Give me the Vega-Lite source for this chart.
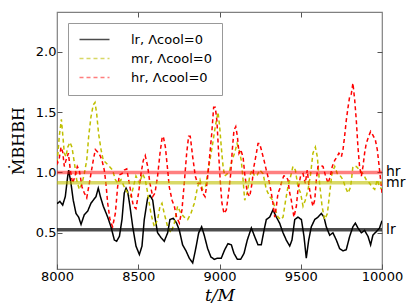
{
  "$schema": "https://vega.github.io/schema/vega-lite/v6.json",
  "width": 325,
  "height": 257,
  "autosize": {"type": "none"},
  "padding": {"left": 57, "top": 12, "right": 25, "bottom": 38},
  "background": "white",
  "config": {
    "view": {"stroke": "#808080", "strokeWidth": 1.2},
    "axis": {
      "domain": false,
      "grid": false,
      "tickColor": "#555",
      "tickSize": -5,
      "labelFont": "DejaVu Sans",
      "labelFontSize": 13,
      "labelColor": "#000000",
      "titleFont": "DejaVu Serif",
      "titleFontWeight": "normal",
      "titleFontSize": 17,
      "titleColor": "#000000"
    },
    "legend": {
      "orient": "top-left",
      "offset": 11,
      "fillColor": "white",
      "strokeColor": "#999",
      "padding": 10,
      "symbolType": "M-1,0H5",
      "symbolSize": 100,
      "symbolStrokeWidth": 1.6,
      "labelFont": "DejaVu Sans",
      "labelFontSize": 13,
      "labelColor": "#000000",
      "labelOffset": 40,
      "rowPadding": 5,
      "cornerRadius": 0
    }
  },
  "resolve": {"axis": {"x": "independent", "y": "independent"}},
  "datasets": {
    "curves": [
      {"s":"lr","t":8000,"v":0.75},{"s":"lr","t":8004,"v":0.745},{"s":"lr","t":8018,"v":0.76},{"s":"lr","t":8035,"v":0.73},{"s":"lr","t":8051,"v":0.80},{"s":"lr","t":8066,"v":0.97},{"s":"lr","t":8072,"v":1.02},{"s":"lr","t":8086,"v":0.91},{"s":"lr","t":8100,"v":0.77},{"s":"lr","t":8117,"v":0.66},{"s":"lr","t":8133,"v":0.63},{"s":"lr","t":8148,"v":0.57},{"s":"lr","t":8168,"v":0.65},{"s":"lr","t":8189,"v":0.68},{"s":"lr","t":8209,"v":0.745},{"s":"lr","t":8223,"v":0.77},{"s":"lr","t":8240,"v":0.80},{"s":"lr","t":8254,"v":0.87},{"s":"lr","t":8267,"v":0.80},{"s":"lr","t":8285,"v":0.72},{"s":"lr","t":8312,"v":0.63},{"s":"lr","t":8332,"v":0.55},{"s":"lr","t":8353,"v":0.44},{"s":"lr","t":8367,"v":0.43},{"s":"lr","t":8384,"v":0.47},{"s":"lr","t":8400,"v":0.61},{"s":"lr","t":8414,"v":0.83},{"s":"lr","t":8425,"v":0.87},{"s":"lr","t":8435,"v":0.84},{"s":"lr","t":8449,"v":0.72},{"s":"lr","t":8466,"v":0.55},{"s":"lr","t":8486,"v":0.39},{"s":"lr","t":8507,"v":0.32},{"s":"lr","t":8523,"v":0.39},{"s":"lr","t":8537,"v":0.61},{"s":"lr","t":8558,"v":0.79},{"s":"lr","t":8572,"v":0.81},{"s":"lr","t":8589,"v":0.77},{"s":"lr","t":8605,"v":0.61},{"s":"lr","t":8619,"v":0.50},{"s":"lr","t":8640,"v":0.46},{"s":"lr","t":8660,"v":0.43},{"s":"lr","t":8681,"v":0.50},{"s":"lr","t":8695,"v":0.61},{"s":"lr","t":8716,"v":0.62},{"s":"lr","t":8736,"v":0.58},{"s":"lr","t":8753,"v":0.52},{"s":"lr","t":8773,"v":0.40},{"s":"lr","t":8794,"v":0.35},{"s":"lr","t":8814,"v":0.29},{"s":"lr","t":8835,"v":0.25},{"s":"lr","t":8851,"v":0.35},{"s":"lr","t":8872,"v":0.50},{"s":"lr","t":8890,"v":0.55},{"s":"lr","t":8906,"v":0.48},{"s":"lr","t":8927,"v":0.37},{"s":"lr","t":8947,"v":0.30},{"s":"lr","t":8968,"v":0.28},{"s":"lr","t":8988,"v":0.29},{"s":"lr","t":9011,"v":0.29},{"s":"lr","t":9032,"v":0.36},{"s":"lr","t":9052,"v":0.41},{"s":"lr","t":9073,"v":0.40},{"s":"lr","t":9089,"v":0.33},{"s":"lr","t":9110,"v":0.28},{"s":"lr","t":9130,"v":0.28},{"s":"lr","t":9151,"v":0.33},{"s":"lr","t":9171,"v":0.44},{"s":"lr","t":9196,"v":0.54},{"s":"lr","t":9216,"v":0.47},{"s":"lr","t":9237,"v":0.40},{"s":"lr","t":9257,"v":0.40},{"s":"lr","t":9274,"v":0.52},{"s":"lr","t":9288,"v":0.61},{"s":"lr","t":9309,"v":0.63},{"s":"lr","t":9329,"v":0.69},{"s":"lr","t":9350,"v":0.63},{"s":"lr","t":9370,"v":0.58},{"s":"lr","t":9391,"v":0.50},{"s":"lr","t":9411,"v":0.44},{"s":"lr","t":9432,"v":0.39},{"s":"lr","t":9446,"v":0.44},{"s":"lr","t":9463,"v":0.61},{"s":"lr","t":9483,"v":0.63},{"s":"lr","t":9504,"v":0.61},{"s":"lr","t":9520,"v":0.47},{"s":"lr","t":9534,"v":0.29},{"s":"lr","t":9549,"v":0.44},{"s":"lr","t":9565,"v":0.55},{"s":"lr","t":9586,"v":0.61},{"s":"lr","t":9606,"v":0.63},{"s":"lr","t":9627,"v":0.66},{"s":"lr","t":9643,"v":0.63},{"s":"lr","t":9657,"v":0.55},{"s":"lr","t":9678,"v":0.48},{"s":"lr","t":9698,"v":0.50},{"s":"lr","t":9719,"v":0.44},{"s":"lr","t":9739,"v":0.37},{"s":"lr","t":9760,"v":0.35},{"s":"lr","t":9780,"v":0.36},{"s":"lr","t":9801,"v":0.47},{"s":"lr","t":9821,"v":0.55},{"s":"lr","t":9836,"v":0.58},{"s":"lr","t":9852,"v":0.54},{"s":"lr","t":9873,"v":0.50},{"s":"lr","t":9893,"v":0.52},{"s":"lr","t":9914,"v":0.47},{"s":"lr","t":9930,"v":0.40},{"s":"lr","t":9944,"v":0.48},{"s":"lr","t":9965,"v":0.51},{"s":"lr","t":9985,"v":0.54},{"s":"lr","t":10000,"v":0.60},

      {"s":"mr","t":8000,"v":1.08},{"s":"mr","t":8004,"v":1.13},{"s":"mr","t":8014,"v":1.30},{"s":"mr","t":8027,"v":1.44},{"s":"mr","t":8035,"v":1.32},{"s":"mr","t":8045,"v":1.16},{"s":"mr","t":8055,"v":1.13},{"s":"mr","t":8066,"v":1.21},{"s":"mr","t":8080,"v":1.25},{"s":"mr","t":8092,"v":1.21},{"s":"mr","t":8107,"v":1.08},{"s":"mr","t":8121,"v":0.94},{"s":"mr","t":8137,"v":0.86},{"s":"mr","t":8154,"v":0.91},{"s":"mr","t":8168,"v":0.99},{"s":"mr","t":8183,"v":1.10},{"s":"mr","t":8195,"v":1.30},{"s":"mr","t":8209,"v":1.46},{"s":"mr","t":8223,"v":1.56},{"s":"mr","t":8234,"v":1.58},{"s":"mr","t":8244,"v":1.49},{"s":"mr","t":8256,"v":1.32},{"s":"mr","t":8271,"v":1.19},{"s":"mr","t":8285,"v":1.10},{"s":"mr","t":8301,"v":1.08},{"s":"mr","t":8322,"v":1.05},{"s":"mr","t":8342,"v":1.02},{"s":"mr","t":8359,"v":0.94},{"s":"mr","t":8375,"v":0.91},{"s":"mr","t":8394,"v":0.94},{"s":"mr","t":8414,"v":0.88},{"s":"mr","t":8435,"v":0.83},{"s":"mr","t":8455,"v":0.80},{"s":"mr","t":8470,"v":0.88},{"s":"mr","t":8486,"v":0.97},{"s":"mr","t":8507,"v":0.91},{"s":"mr","t":8527,"v":0.99},{"s":"mr","t":8543,"v":0.94},{"s":"mr","t":8558,"v":0.83},{"s":"mr","t":8578,"v":0.66},{"s":"mr","t":8599,"v":0.55},{"s":"mr","t":8619,"v":0.61},{"s":"mr","t":8634,"v":0.72},{"s":"mr","t":8646,"v":0.745},{"s":"mr","t":8660,"v":0.66},{"s":"mr","t":8681,"v":0.55},{"s":"mr","t":8701,"v":0.50},{"s":"mr","t":8722,"v":0.58},{"s":"mr","t":8742,"v":0.72},{"s":"mr","t":8763,"v":0.66},{"s":"mr","t":8783,"v":0.63},{"s":"mr","t":8804,"v":0.61},{"s":"mr","t":8824,"v":0.66},{"s":"mr","t":8845,"v":0.745},{"s":"mr","t":8865,"v":0.88},{"s":"mr","t":8880,"v":0.94},{"s":"mr","t":8896,"v":0.86},{"s":"mr","t":8913,"v":0.88},{"s":"mr","t":8927,"v":0.99},{"s":"mr","t":8941,"v":1.10},{"s":"mr","t":8958,"v":1.24},{"s":"mr","t":8974,"v":1.38},{"s":"mr","t":8991,"v":1.50},{"s":"mr","t":9001,"v":1.38},{"s":"mr","t":9011,"v":1.21},{"s":"mr","t":9022,"v":1.05},{"s":"mr","t":9032,"v":0.97},{"s":"mr","t":9048,"v":0.99},{"s":"mr","t":9063,"v":1.02},{"s":"mr","t":9077,"v":1.10},{"s":"mr","t":9093,"v":1.16},{"s":"mr","t":9108,"v":1.24},{"s":"mr","t":9120,"v":1.19},{"s":"mr","t":9134,"v":1.10},{"s":"mr","t":9145,"v":0.94},{"s":"mr","t":9155,"v":0.77},{"s":"mr","t":9171,"v":0.83},{"s":"mr","t":9186,"v":0.97},{"s":"mr","t":9200,"v":1.02},{"s":"mr","t":9216,"v":0.97},{"s":"mr","t":9233,"v":0.98},{"s":"mr","t":9247,"v":1.02},{"s":"mr","t":9268,"v":0.99},{"s":"mr","t":9288,"v":0.86},{"s":"mr","t":9309,"v":0.80},{"s":"mr","t":9329,"v":0.77},{"s":"mr","t":9344,"v":0.69},{"s":"mr","t":9360,"v":0.63},{"s":"mr","t":9376,"v":0.61},{"s":"mr","t":9391,"v":0.63},{"s":"mr","t":9407,"v":0.77},{"s":"mr","t":9421,"v":0.88},{"s":"mr","t":9438,"v":0.97},{"s":"mr","t":9452,"v":1.05},{"s":"mr","t":9467,"v":1.02},{"s":"mr","t":9483,"v":0.88},{"s":"mr","t":9499,"v":0.83},{"s":"mr","t":9514,"v":0.72},{"s":"mr","t":9528,"v":0.77},{"s":"mr","t":9545,"v":0.86},{"s":"mr","t":9561,"v":0.99},{"s":"mr","t":9575,"v":1.16},{"s":"mr","t":9590,"v":1.21},{"s":"mr","t":9602,"v":1.13},{"s":"mr","t":9616,"v":0.91},{"s":"mr","t":9631,"v":0.72},{"s":"mr","t":9647,"v":0.61},{"s":"mr","t":9664,"v":0.66},{"s":"mr","t":9678,"v":0.83},{"s":"mr","t":9692,"v":0.99},{"s":"mr","t":9709,"v":1.05},{"s":"mr","t":9725,"v":0.99},{"s":"mr","t":9739,"v":0.98},{"s":"mr","t":9760,"v":0.94},{"s":"mr","t":9774,"v":0.88},{"s":"mr","t":9791,"v":0.83},{"s":"mr","t":9807,"v":0.88},{"s":"mr","t":9821,"v":1.05},{"s":"mr","t":9842,"v":1.05},{"s":"mr","t":9862,"v":1.02},{"s":"mr","t":9883,"v":0.99},{"s":"mr","t":9903,"v":0.94},{"s":"mr","t":9924,"v":0.91},{"s":"mr","t":9938,"v":0.88},{"s":"mr","t":9955,"v":0.86},{"s":"mr","t":9971,"v":0.94},{"s":"mr","t":9985,"v":0.88},{"s":"mr","t":10000,"v":0.86},

      {"s":"hr","t":8000,"v":1.10},{"s":"hr","t":8004,"v":1.08},{"s":"hr","t":8014,"v":1.12},{"s":"hr","t":8025,"v":1.21},{"s":"hr","t":8035,"v":1.17},{"s":"hr","t":8045,"v":1.05},{"s":"hr","t":8055,"v":1.10},{"s":"hr","t":8070,"v":1.16},{"s":"hr","t":8082,"v":1.02},{"s":"hr","t":8096,"v":0.91},{"s":"hr","t":8111,"v":0.97},{"s":"hr","t":8125,"v":1.05},{"s":"hr","t":8137,"v":1.02},{"s":"hr","t":8154,"v":0.88},{"s":"hr","t":8168,"v":0.83},{"s":"hr","t":8183,"v":0.79},{"s":"hr","t":8195,"v":0.88},{"s":"hr","t":8209,"v":0.99},{"s":"hr","t":8223,"v":1.10},{"s":"hr","t":8236,"v":1.19},{"s":"hr","t":8250,"v":1.17},{"s":"hr","t":8265,"v":1.14},{"s":"hr","t":8277,"v":1.10},{"s":"hr","t":8291,"v":1.02},{"s":"hr","t":8301,"v":0.91},{"s":"hr","t":8312,"v":0.745},{"s":"hr","t":8326,"v":0.61},{"s":"hr","t":8342,"v":0.55},{"s":"hr","t":8359,"v":0.66},{"s":"hr","t":8373,"v":0.88},{"s":"hr","t":8384,"v":0.98},{"s":"hr","t":8400,"v":0.99},{"s":"hr","t":8414,"v":1.02},{"s":"hr","t":8429,"v":1.03},{"s":"hr","t":8441,"v":0.94},{"s":"hr","t":8455,"v":0.83},{"s":"hr","t":8470,"v":0.72},{"s":"hr","t":8486,"v":0.70},{"s":"hr","t":8502,"v":0.83},{"s":"hr","t":8517,"v":0.99},{"s":"hr","t":8531,"v":1.10},{"s":"hr","t":8543,"v":1.14},{"s":"hr","t":8558,"v":1.05},{"s":"hr","t":8572,"v":0.91},{"s":"hr","t":8589,"v":0.80},{"s":"hr","t":8603,"v":0.83},{"s":"hr","t":8619,"v":0.97},{"s":"hr","t":8634,"v":1.16},{"s":"hr","t":8646,"v":1.28},{"s":"hr","t":8654,"v":1.30},{"s":"hr","t":8667,"v":1.21},{"s":"hr","t":8681,"v":1.02},{"s":"hr","t":8691,"v":0.88},{"s":"hr","t":8708,"v":0.77},{"s":"hr","t":8722,"v":0.72},{"s":"hr","t":8736,"v":0.63},{"s":"hr","t":8753,"v":0.58},{"s":"hr","t":8769,"v":0.69},{"s":"hr","t":8783,"v":0.91},{"s":"hr","t":8798,"v":1.16},{"s":"hr","t":8810,"v":1.30},{"s":"hr","t":8820,"v":1.30},{"s":"hr","t":8835,"v":1.13},{"s":"hr","t":8851,"v":0.97},{"s":"hr","t":8865,"v":0.91},{"s":"hr","t":8880,"v":0.91},{"s":"hr","t":8896,"v":0.83},{"s":"hr","t":8911,"v":0.80},{"s":"hr","t":8923,"v":0.91},{"s":"hr","t":8937,"v":1.10},{"s":"hr","t":8952,"v":1.32},{"s":"hr","t":8964,"v":1.54},{"s":"hr","t":8974,"v":1.54},{"s":"hr","t":8984,"v":1.43},{"s":"hr","t":8995,"v":1.15},{"s":"hr","t":9005,"v":0.92},{"s":"hr","t":9015,"v":0.745},{"s":"hr","t":9028,"v":0.66},{"s":"hr","t":9042,"v":0.69},{"s":"hr","t":9056,"v":0.83},{"s":"hr","t":9069,"v":0.99},{"s":"hr","t":9079,"v":1.19},{"s":"hr","t":9089,"v":1.35},{"s":"hr","t":9100,"v":1.38},{"s":"hr","t":9110,"v":1.30},{"s":"hr","t":9120,"v":1.16},{"s":"hr","t":9130,"v":1.19},{"s":"hr","t":9145,"v":1.13},{"s":"hr","t":9155,"v":0.99},{"s":"hr","t":9171,"v":0.83},{"s":"hr","t":9186,"v":0.80},{"s":"hr","t":9200,"v":0.91},{"s":"hr","t":9212,"v":1.05},{"s":"hr","t":9227,"v":1.16},{"s":"hr","t":9237,"v":1.24},{"s":"hr","t":9247,"v":1.24},{"s":"hr","t":9257,"v":1.19},{"s":"hr","t":9274,"v":1.10},{"s":"hr","t":9288,"v":1.02},{"s":"hr","t":9303,"v":0.94},{"s":"hr","t":9315,"v":0.86},{"s":"hr","t":9329,"v":0.745},{"s":"hr","t":9340,"v":0.63},{"s":"hr","t":9350,"v":0.72},{"s":"hr","t":9360,"v":0.83},{"s":"hr","t":9370,"v":0.86},{"s":"hr","t":9380,"v":0.91},{"s":"hr","t":9395,"v":0.97},{"s":"hr","t":9407,"v":0.97},{"s":"hr","t":9421,"v":0.94},{"s":"hr","t":9432,"v":0.83},{"s":"hr","t":9442,"v":0.77},{"s":"hr","t":9458,"v":0.63},{"s":"hr","t":9473,"v":0.72},{"s":"hr","t":9483,"v":0.86},{"s":"hr","t":9499,"v":0.97},{"s":"hr","t":9514,"v":0.99},{"s":"hr","t":9528,"v":0.91},{"s":"hr","t":9540,"v":1.02},{"s":"hr","t":9549,"v":0.91},{"s":"hr","t":9561,"v":0.80},{"s":"hr","t":9575,"v":0.72},{"s":"hr","t":9586,"v":0.77},{"s":"hr","t":9596,"v":0.94},{"s":"hr","t":9606,"v":1.05},{"s":"hr","t":9620,"v":1.06},{"s":"hr","t":9637,"v":1.05},{"s":"hr","t":9651,"v":0.98},{"s":"hr","t":9668,"v":0.91},{"s":"hr","t":9682,"v":0.97},{"s":"hr","t":9694,"v":1.05},{"s":"hr","t":9709,"v":1.10},{"s":"hr","t":9723,"v":1.13},{"s":"hr","t":9735,"v":1.16},{"s":"hr","t":9750,"v":1.13},{"s":"hr","t":9760,"v":1.19},{"s":"hr","t":9770,"v":1.30},{"s":"hr","t":9780,"v":1.43},{"s":"hr","t":9791,"v":1.54},{"s":"hr","t":9801,"v":1.63},{"s":"hr","t":9811,"v":1.65},{"s":"hr","t":9821,"v":1.74},{"s":"hr","t":9832,"v":1.60},{"s":"hr","t":9842,"v":1.43},{"s":"hr","t":9852,"v":1.21},{"s":"hr","t":9862,"v":1.05},{"s":"hr","t":9873,"v":0.97},{"s":"hr","t":9883,"v":1.05},{"s":"hr","t":9893,"v":1.16},{"s":"hr","t":9903,"v":1.24},{"s":"hr","t":9918,"v":1.30},{"s":"hr","t":9930,"v":1.34},{"s":"hr","t":9944,"v":1.31},{"s":"hr","t":9959,"v":1.27},{"s":"hr","t":9971,"v":1.19},{"s":"hr","t":9985,"v":1.02},{"s":"hr","t":9996,"v":0.88},{"s":"hr","t":10000,"v":0.83}
    ],
    "levels": [
      {"s":"lr","level":0.525},
      {"s":"mr","level":0.915},
      {"s":"hr","level":1.0}
    ]
  },
  "layer": [
    {
      "data": {"name": "curves"},
      "mark": {"type": "line", "strokeWidth": 1.5, "clip": true},
      "encoding": {
        "x": {"field": "t", "type": "quantitative",
              "scale": {"domain": [8000, 10000], "nice": false, "zero": false},
              "axis": {"values": [8000, 8500, 9000, 9500, 10000], "format": "d", "title": "t/M", "titleFontStyle": "italic", "titlePadding": 4, "labelPadding": 6, "labelFlush": false}},
        "y": {"field": "v", "type": "quantitative",
              "scale": {"domain": [0.2, 2.33], "nice": false, "zero": false},
              "axis": {"values": [0.5, 1.0, 1.5, 2.0], "format": ".1f", "title": "ṀBHBH", "titleFontSize": 16, "titlePadding": 9, "labelPadding": 6}},
        "color": {"field": "s", "type": "nominal",
                  "scale": {"domain": ["lr", "mr", "hr"], "range": ["#000000", "#bfbf00", "#ff0000"]},
                  "legend": {"title": null, "labelExpr": "datum.label + ', Λcool=0'"}},
        "strokeDash": {"field": "s", "type": "nominal",
                  "scale": {"domain": ["lr", "mr", "hr"], "range": [[1, 0], [4, 3], [4, 3]]},
                  "legend": {"title": null, "labelExpr": "datum.label + ', Λcool=0'"}},
        "order": {"field": "t", "type": "quantitative"}
      }
    },
    {
      "data": {"name": "levels"},
      "mark": {"type": "rule", "strokeWidth": 3.5},
      "encoding": {
        "y": {"field": "level", "type": "quantitative", "axis": null},
        "color": {"field": "s", "type": "nominal", "legend": null},
        "opacity": {"field": "s", "type": "nominal", "scale": {"domain": ["lr", "mr", "hr"], "range": [0.7, 0.5, 0.5]}, "legend": null}
      }
    },
    {
      "data": {"name": "levels"},
      "mark": {"type": "text", "align": "left", "baseline": "middle", "dx": 4, "fontSize": 14, "font": "DejaVu Sans", "color": "black"},
      "encoding": {
        "x": {"datum": 10000, "type": "quantitative",
              "axis": {"orient": "top", "values": [8500, 9000, 9500], "labels": false, "title": null}},
        "y": {"field": "level", "type": "quantitative",
              "axis": {"orient": "right", "values": [0.5, 1.0, 1.5, 2.0], "labels": false, "title": null}},
        "text": {"field": "s"}
      }
    }
  ]
}
